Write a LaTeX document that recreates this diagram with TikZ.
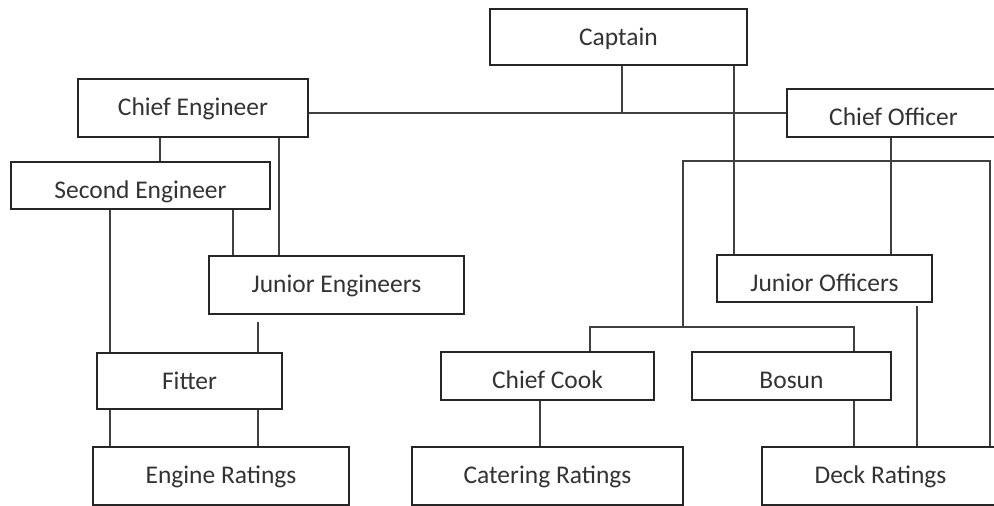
\documentclass[tikz,border=0pt]{standalone}
\usepackage{fontspec}
\setmainfont{Carlito}
\begin{document}
\begin{tikzpicture}[x=0.02cm, y=-0.02cm,
    box/.style 2 args={draw=black!85, line width=0.8pt, fill=white, inner sep=0pt,
      minimum width=#1, minimum height=#2, text height=0.74cm, text depth=#2-0.74cm,
      font=\fontsize{14.5}{16}\selectfont, text=black!80},
    link/.style={draw=black!75, line width=0.8pt}]
    \useasboundingbox (0,0) rectangle (994,506);
    \clip (0,0) rectangle (994,506);

    % Mando
    \node[box={5.14cm}{1.12cm}] (cap) at (618.5,37) {Captain};
    \node[box={4.6cm}{1.16cm}] (ce) at (193,108) {Chief Engineer};
    \node[box={4.26cm}{0.96cm}] (co) at (893.5,113) {Chief Officer};

    % Maquinas
    \node[box={5.18cm}{0.94cm}] (se) at (140.5,185.5) {Second Engineer};
    \node[box={5.1cm}{1.16cm}] (je) at (336.5,285) {Junior Engineers};
    \node[box={3.7cm}{1.12cm}] (fit) at (189.5,381) {Fitter};
    \node[box={5.12cm}{1.16cm}] (er) at (221,476) {Engine Ratings};

    % Cubierta y fonda
    \node[box={4.3cm}{0.94cm}] (jo) at (824.5,278.5) {Junior Officers};
    \node[box={4.26cm}{0.96cm}] (cc) at (547.5,376) {Chief Cook};
    \node[box={3.98cm}{0.96cm}] (bos) at (791.5,376) {Bosun};
    \node[box={5.42cm}{1.16cm}] (cr) at (547.5,476) {Catering Ratings};
    \node[box={4.74cm}{1.16cm}] (dr) at (880.5,476) {Deck Ratings};

    % Puntos de paso
    \coordinate (hl) at (622,113);
    \coordinate (t1) at (683,161);
    \coordinate (t2) at (990,161);
    \coordinate (t3) at (683,327);
    \coordinate (b1) at (590,327);
    \coordinate (b2) at (854,327);
    \coordinate (v1) at (160,0);
    \coordinate (v2) at (279,0);
    \coordinate (v3) at (110,0);
    \coordinate (v4) at (233,0);
    \coordinate (v5) at (258,0);
    \coordinate (v6) at (734,0);
    \coordinate (v7) at (891,0);
    \coordinate (v8) at (540,0);
    \coordinate (v9) at (917,0);

    % Lineas de mando
    \draw[link] (ce.east |- hl) -- (co.west |- hl);
    \draw[link] (cap.south -| hl) -- (hl);
    \draw[link] (cap.south -| v6) -- (jo.north -| v6);
    \draw[link] (co.south -| v7) -- (jo.north -| v7);

    % Lineas de maquinas
    \draw[link] (ce.south -| v1) -- (se.north -| v1);
    \draw[link] (ce.south -| v2) -- (je.north -| v2);
    \draw[link] (se.south -| v4) -- (je.north -| v4);
    \draw[link] (se.south -| v3) -- (fit.north -| v3);
    \draw[link] (fit.south -| v3) -- (er.north -| v3);
    \draw[link] ([yshift=-4pt]je.south -| v5) -- (fit.north -| v5);
    \draw[link] (fit.south -| v5) -- (er.north -| v5);

    % Lineas de cubierta
    \draw[link] (dr.north -| t2) -- (t2) -- (t1) -- (t3);
    \draw[link] (cc.north -| b1) -- (b1) -- (b2) -- (bos.north -| b2);
    \draw[link] (cc.south -| v8) -- (cr.north -| v8);
    \draw[link] (bos.south -| b2) -- (dr.north -| b2);
    \draw[link] ([yshift=-2pt]jo.south -| v9) -- (dr.north -| v9);
\end{tikzpicture}
\end{document}
